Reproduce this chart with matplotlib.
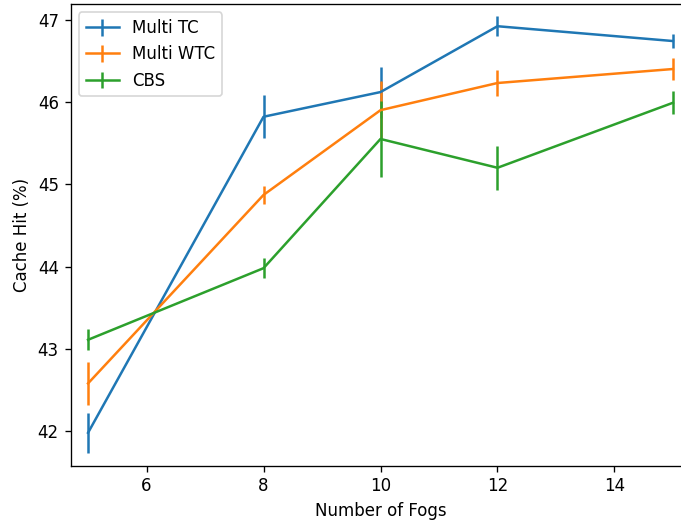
import matplotlib
matplotlib.use('Agg')
import matplotlib.pyplot as plt

# Number of fogs on the x axis
fogs = [5, 8, 10, 12, 15]

# Mean cache hit (%) and error for each scheme
multi_tc = [41.98, 45.82, 46.12, 46.92, 46.74]
multi_tc_err = [0.24, 0.26, 0.31, 0.12, 0.09]

multi_wtc = [42.58, 44.87, 45.90, 46.23, 46.40]
multi_wtc_err = [0.26, 0.105, 0.35, 0.16, 0.13]

cbs = [43.11, 43.98, 45.55, 45.20, 45.99]
cbs_err = [0.13, 0.12, 0.46, 0.27, 0.14]


def main():
    dpi = 120
    fig = plt.figure(figsize=(681 / dpi, 523 / dpi), dpi=dpi)
    ax = fig.add_axes([70.5 / 681, (523 - 465.7) / 523, 620 / 681, 461.7 / 523])

    ax.errorbar(fogs, multi_tc, yerr=multi_tc_err, label='Multi TC')
    ax.errorbar(fogs, multi_wtc, yerr=multi_wtc_err, label='Multi WTC')
    ax.errorbar(fogs, cbs, yerr=cbs_err, label='CBS')

    ax.set_xlim(4.7, 15.3)
    ax.set_ylim(41.58, 47.19)
    ax.set_xticks([6, 8, 10, 12, 14])
    ax.set_yticks([42, 43, 44, 45, 46, 47])

    ax.set_xlabel('Number of Fogs')
    ax.set_ylabel('Cache Hit (%)')
    ax.legend(loc='upper left')

    fig.savefig('out.png', dpi=dpi)


if __name__ == '__main__':
    main()
